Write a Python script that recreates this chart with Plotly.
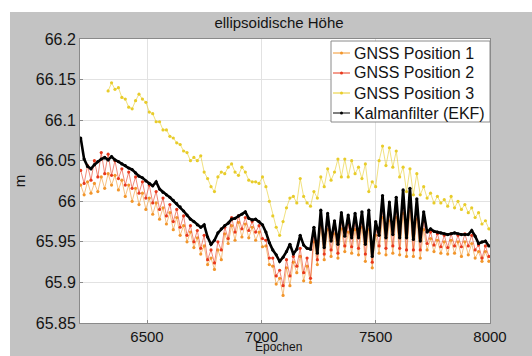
import plotly.graph_objects as go

# Epochs (sampled every 15 epochs)
epochs = list(range(6210, 8000, 15))

gnss1 = [66.020, 66.008, 66.024, 66.010, 66.022, 66.012, 66.030, 66.016, 66.034, 66.020,
         66.032, 66.014, 66.026, 66.006, 66.020, 66.000, 66.016, 65.996, 66.010, 65.990,
         66.004, 65.984, 65.998, 65.978, 65.992, 65.972, 65.986, 65.965, 65.980, 65.958,
         65.970, 65.950, 65.962, 65.943, 65.955, 65.935, 65.945, 65.922, 65.930, 65.916,
         65.940, 65.928, 65.960, 65.948, 65.970, 65.952, 65.974, 65.956, 65.972, 65.955,
         65.968, 65.952, 65.962, 65.944, 65.945, 65.922, 65.920, 65.898, 65.905, 65.884,
         65.918, 65.896, 65.925, 65.912, 65.932, 65.902, 65.920, 65.900, 65.950, 65.922,
         65.968, 65.928, 65.965, 65.932, 65.960, 65.930, 65.966, 65.938, 65.962, 65.936,
         65.965, 65.934, 65.968, 65.926, 65.965, 65.918, 65.958, 65.936, 65.980, 65.934,
         65.976, 65.936, 65.980, 65.934, 65.985, 65.932, 65.988, 65.932, 65.978, 65.930,
         65.965, 65.940, 65.954, 65.938, 65.952, 65.936, 65.950, 65.935, 65.952, 65.936,
         65.950, 65.932, 65.950, 65.934, 65.948, 65.930, 65.938, 65.926, 65.938, 65.926]

gnss2 = [66.038, 66.022, 66.044, 66.026, 66.050, 66.030, 66.060, 66.034, 66.058, 66.032,
         66.050, 66.028, 66.040, 66.020, 66.036, 66.016, 66.030, 66.010, 66.024, 66.004,
         66.020, 65.998, 66.012, 65.990, 66.004, 65.982, 65.996, 65.975, 65.990, 65.968,
         65.982, 65.958, 65.970, 65.950, 65.964, 65.942, 65.958, 65.928, 65.940, 65.924,
         65.950, 65.940, 65.968, 65.954, 65.980, 65.962, 65.982, 65.966, 65.980, 65.964,
         65.975, 65.962, 65.970, 65.954, 65.952, 65.930, 65.930, 65.908, 65.915, 65.896,
         65.928, 65.908, 65.932, 65.920, 65.942, 65.912, 65.930, 65.905, 65.960, 65.928,
         65.978, 65.935, 65.975, 65.940, 65.968, 65.936, 65.976, 65.945, 65.972, 65.944,
         65.975, 65.942, 65.978, 65.935, 65.978, 65.925, 65.968, 65.945, 65.992, 65.942,
         65.988, 65.945, 65.992, 65.942, 65.998, 65.940, 66.000, 65.940, 65.990, 65.940,
         65.975, 65.948, 65.962, 65.946, 65.960, 65.944, 65.958, 65.943, 65.960, 65.945,
         65.958, 65.944, 65.960, 65.945, 65.958, 65.940, 65.946, 65.930, 65.945, 65.932]

gnss3 = [None, None, None, None, None, None, None, None, 66.136, 66.146,
         66.138, 66.140, 66.128, 66.126, 66.116, 66.114, 66.124, 66.132, 66.126, 66.122,
         66.110, 66.108, 66.098, 66.098, 66.088, 66.088, 66.080, 66.078, 66.072, 66.070,
         66.062, 66.060, 66.050, 66.054, 66.050, 66.056, 66.036, 66.028, 66.018, 66.012,
         66.030, 66.036, 66.034, 66.042, 66.046, 66.036, 66.032, 66.042, 66.036, 66.026,
         66.024, 66.024, 66.022, 66.030, 66.018, 66.000, 65.982, 65.968, 65.958, 65.975,
         65.992, 66.004, 66.006, 65.998, 66.028, 66.006, 65.998, 65.994, 66.012, 66.004,
         66.030, 66.018, 66.040, 66.026, 66.036, 66.052, 66.030, 66.052, 66.030, 66.050,
         66.034, 66.042, 66.028, 66.046, 66.012, 66.024, 66.018, 66.050, 66.068, 66.044,
         66.066, 66.042, 66.062, 66.030, 66.042, 66.012, 66.040, 66.008, 66.034, 66.008,
         66.018, 66.004, 66.010, 65.998, 66.006, 65.998, 66.002, 65.994, 66.006, 65.992,
         66.000, 65.990, 65.996, 65.986, 65.992, 65.980, 65.986, 65.972, 65.976, 65.966]

kalman = [66.078, 66.052, 66.043, 66.040, 66.045, 66.049, 66.052, 66.054, 66.051, 66.055,
          66.051, 66.049, 66.046, 66.044, 66.041, 66.039, 66.035, 66.031, 66.029, 66.025,
          66.022, 66.019, 66.024, 66.015, 66.011, 66.008, 66.005, 66.001, 65.997, 65.993,
          65.988, 65.983, 65.978, 65.975, 65.971, 65.968, 65.971, 65.956, 65.947, 65.952,
          65.961, 65.966, 65.970, 65.973, 65.978, 65.979, 65.982, 65.984, 65.987, 65.979,
          65.977, 65.978, 65.975, 65.971, 65.962, 65.949, 65.940, 65.934, 65.926, 65.931,
          65.938, 65.947, 65.935, 65.941, 65.958, 65.946, 65.942, 65.941, 65.968, 65.936,
          65.989, 65.943, 65.985, 65.951, 65.976, 65.947, 65.986, 65.957, 65.983, 65.955,
          65.985, 65.955, 65.987, 65.947, 65.989, 65.932, 65.975, 65.958, 66.007, 65.955,
          65.999, 65.959, 66.005, 65.955, 66.014, 65.955, 66.016, 65.953, 66.003, 65.951,
          65.987, 65.962, 65.966, 65.963, 65.962, 65.961, 65.960, 65.959, 65.960, 65.961,
          65.960, 65.959, 65.959, 65.959, 65.964, 65.957, 65.948, 65.950, 65.951, 65.945]

series_names = ["GNSS Position 1", "GNSS Position 2", "GNSS Position 3", "Kalmanfilter (EKF)"]
x_ticks = [6500, 7000, 7500, 8000]
y_ticks = [65.85, 65.9, 65.95, 66.0, 66.05, 66.1, 66.15, 66.2]
y_ticktext = ["65.85", "65.9", "65.95", "66", "66.05", "66.1", "66.15", "66.2"]

FONT = "Liberation Sans, Arial, sans-serif"
TXT = "#141414"

W, H = 532, 356
L, R, T, B = 80, 42, 39, 33
pw, ph = W - L - R, H - T - B

def px_x(p):
    return (p - L) / pw

def px_y(p):
    return (H - B - p) / ph

fig = go.Figure()
styles = [
    dict(color="#f2962c", lw=0.6, ms=3.2),
    dict(color="#e8381c", lw=0.6, ms=3.2),
    dict(color="#e8cc2a", lw=0.6, ms=3.2),
    dict(color="#000000", lw=2.6, ms=3.2),
]
for name, vals, st in zip(series_names, [gnss1, gnss2, gnss3, kalman], styles):
    fig.add_trace(go.Scatter(
        x=epochs, y=vals, name=name, mode="lines+markers",
        line=dict(color=st["color"], width=st["lw"]),
        marker=dict(color=st["color"], size=st["ms"]),
        connectgaps=False, showlegend=False,
    ))

# compact MATLAB-style legend box (top right of the axes)
shapes = [
    dict(type="rect", xref="paper", yref="paper", x0=px_x(0), x1=px_x(W),
         y0=px_y(12), y1=px_y(0), fillcolor="#ffffff", line=dict(width=0), layer="below"),
    dict(type="rect", xref="paper", yref="paper", x0=px_x(0), x1=px_x(10),
         y0=px_y(H), y1=px_y(0), fillcolor="#ffffff", line=dict(width=0), layer="below"),
    dict(type="rect", xref="paper", yref="paper", x0=px_x(331), x1=px_x(490),
         y0=px_y(122), y1=px_y(41), fillcolor="#ffffff",
         line=dict(color="#8a8a8a", width=1), layer="above"),
]
annotations = []
for k, (name, st) in enumerate(zip(series_names, styles)):
    yc = 53 + 20 * k
    shapes.append(dict(type="line", xref="paper", yref="paper",
                       x0=px_x(333), x1=px_x(350), y0=px_y(yc), y1=px_y(yc),
                       line=dict(color=st["color"], width=1), layer="above"))
    shapes.append(dict(type="circle", xref="paper", yref="paper",
                       x0=px_x(340), x1=px_x(343), y0=px_y(yc + 1.5), y1=px_y(yc - 1.5),
                       fillcolor=st["color"], line=dict(width=0), layer="above"))
    annotations.append(dict(text=name, xref="paper", yref="paper",
                            x=px_x(352), y=px_y(yc), xanchor="left", yanchor="middle",
                            showarrow=False, font=dict(family=FONT, size=16, color=TXT)))

# x-axis title, placed just under the tick labels like the original
annotations.append(dict(text="Epochen", xref="paper", yref="paper",
                        x=px_x(278), y=px_y(356), xanchor="center", yanchor="bottom",
                        showarrow=False, font=dict(family=FONT, size=12, color=TXT)))

fig.update_layout(
    width=W, height=H,
    margin=dict(l=L, r=R, t=T, b=B, autoexpand=False),
    paper_bgcolor="#c3c3c3",
    plot_bgcolor="#ffffff",
    font=dict(family=FONT, size=16, color=TXT),
    title=dict(text="ellipsoidische Höhe", x=px_x(279), xref="paper", xanchor="center",
               y=1 - 23 / H, yref="container", yanchor="middle",
               font=dict(family=FONT, size=15, color=TXT)),
    showlegend=False,
    shapes=shapes,
    annotations=annotations,
)
fig.update_xaxes(
    range=[6207, 8000], tickvals=x_ticks, ticktext=[str(v) for v in x_ticks],
    showgrid=True, gridcolor="#e2e2e2", gridwidth=1,
    showline=True, linecolor="#8a8a8a", linewidth=1, mirror=True,
    ticks="inside", ticklen=3, tickcolor="#8a8a8a",
    zeroline=False, automargin=False,
    tickfont=dict(family=FONT, size=15, color=TXT),
)
fig.update_yaxes(
    range=[65.85, 66.2], tickvals=y_ticks, ticktext=y_ticktext,
    showgrid=True, gridcolor="#e2e2e2", gridwidth=1,
    showline=True, linecolor="#8a8a8a", linewidth=1, mirror=True,
    ticks="inside", ticklen=3, tickcolor="#8a8a8a",
    zeroline=False, automargin=False,
    tickfont=dict(family=FONT, size=16, color=TXT),
    title=dict(text="m", standoff=6, font=dict(family=FONT, size=15, color=TXT)),
)

fig.write_html(
    "out.html",
    config={"displayModeBar": False},
    post_script="document.body.style.margin='0';document.body.style.padding='0';"
                "document.body.style.overflow='hidden';"
                "document.documentElement.style.overflow='hidden';",
)
